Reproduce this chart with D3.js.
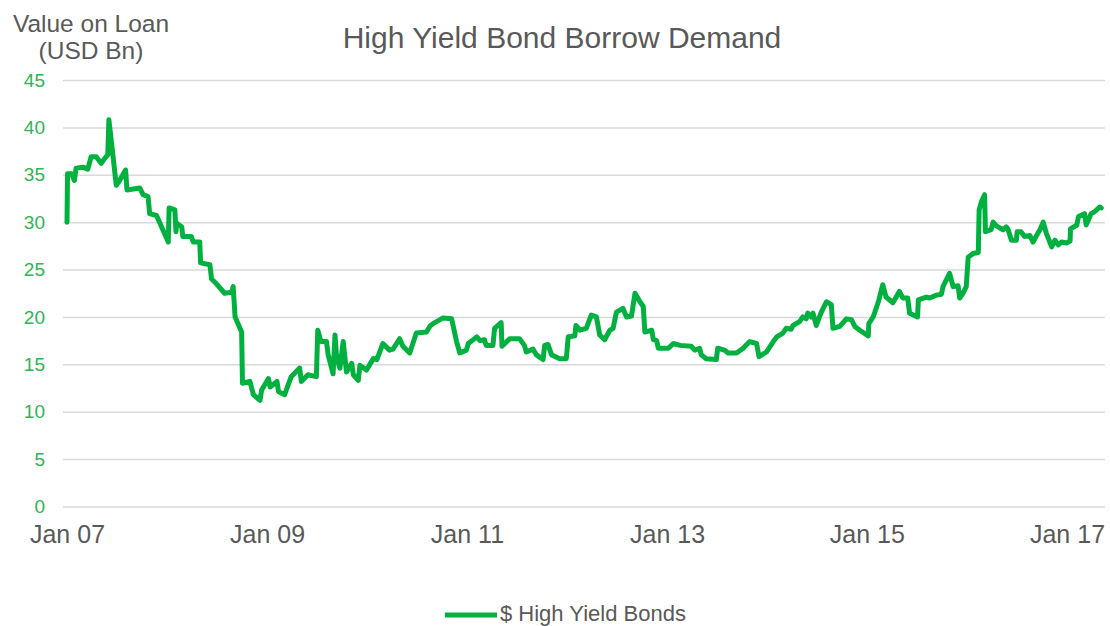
<!DOCTYPE html>
<html>
<head>
<meta charset="utf-8">
<script src="https://cdn.jsdelivr.net/npm/d3@7"></script>
<style>
  html, body { margin: 0; padding: 0; background: #ffffff; }
  svg { display: block; font-family: "Liberation Sans", Arial, sans-serif; }
</style>
</head>
<body>
<svg id="chart" width="1110" height="626"></svg>
<script>
const chartTitle = "High Yield Bond Borrow Demand";
const yAxisTitle = ["Value on Loan", "(USD Bn)"];
const seriesName = "$ High Yield Bonds";
const yTickValues = [0, 5, 10, 15, 20, 25, 30, 35, 40, 45];
const xTickDates = ["2007-01-01", "2009-01-01", "2011-01-01", "2013-01-01", "2015-01-01", "2017-01-01"];
const xTickLabels = ["Jan 07", "Jan 09", "Jan 11", "Jan 13", "Jan 15", "Jan 17"];

const dates = [
  "2007-01-01","2007-01-03","2007-01-18","2007-01-28","2007-02-03","2007-02-28","2007-03-18","2007-03-30","2007-04-18","2007-05-06",
  "2007-05-18","2007-05-30","2007-06-03","2007-06-30","2007-07-12","2007-08-03","2007-08-08","2007-09-24","2007-10-06","2007-10-24",
  "2007-10-30","2007-11-24","2008-01-06","2008-01-09","2008-01-30","2008-02-03","2008-02-06","2008-02-24","2008-02-28","2008-03-30",
  "2008-04-06","2008-04-30","2008-05-03","2008-06-06","2008-06-12","2008-06-30","2008-07-30","2008-08-24","2008-08-30","2008-09-06",
  "2008-09-30","2008-10-03","2008-10-30","2008-11-12","2008-12-06","2008-12-12","2009-01-06","2009-01-12","2009-02-06","2009-02-12",
  "2009-03-06","2009-03-30","2009-04-30","2009-05-06","2009-05-30","2009-06-30","2009-07-05","2009-07-17","2009-08-06","2009-08-12",
  "2009-08-30","2009-09-06","2009-09-12","2009-09-24","2009-10-06","2009-10-18","2009-11-06","2009-11-12","2009-11-30","2009-12-06",
  "2009-12-30","2010-01-24","2010-02-06","2010-02-28","2010-03-24","2010-04-06","2010-04-30","2010-05-12","2010-06-06","2010-06-30",
  "2010-08-06","2010-08-18","2010-08-30","2010-10-06","2010-11-06","2010-11-24","2010-12-06","2010-12-30","2011-01-06","2011-02-06",
  "2011-02-18","2011-03-06","2011-03-12","2011-04-06","2011-04-12","2011-05-06","2011-05-09","2011-06-06","2011-07-12","2011-07-30",
  "2011-08-06","2011-08-30","2011-09-12","2011-10-06","2011-10-12","2011-10-24","2011-11-06","2011-12-06","2011-12-30","2012-01-06",
  "2012-01-30","2012-02-03","2012-02-18","2012-03-12","2012-03-30","2012-04-18","2012-04-30","2012-05-18","2012-06-06","2012-06-18",
  "2012-06-30","2012-07-24","2012-08-06","2012-08-24","2012-09-06","2012-09-24","2012-10-06","2012-10-12","2012-11-06","2012-11-12",
  "2012-11-24","2012-11-30","2013-01-06","2013-01-24","2013-02-18","2013-03-30","2013-04-12","2013-04-30","2013-05-06","2013-05-24",
  "2013-06-30","2013-07-05","2013-07-30","2013-08-12","2013-09-12","2013-10-06","2013-10-30","2013-11-24","2013-12-03","2013-12-30",
  "2014-01-06","2014-01-24","2014-02-06","2014-02-28","2014-03-12","2014-03-30","2014-04-06","2014-04-30","2014-05-12","2014-05-24",
  "2014-05-30","2014-06-12","2014-06-18","2014-06-30","2014-07-17","2014-08-06","2014-08-24","2014-08-30","2014-09-24","2014-10-18",
  "2014-11-06","2014-11-18","2014-12-06","2015-01-06","2015-01-08","2015-01-24","2015-02-12","2015-02-28","2015-03-12","2015-04-06",
  "2015-04-30","2015-05-12","2015-05-30","2015-06-06","2015-07-05","2015-07-08","2015-08-06","2015-08-18","2015-09-12","2015-09-30",
  "2015-10-06","2015-10-30","2015-11-12","2015-11-30","2015-12-06","2015-12-18","2015-12-30","2016-01-06","2016-01-24","2016-02-12",
  "2016-02-15","2016-02-24","2016-03-06","2016-03-09","2016-03-30","2016-04-06","2016-04-18","2016-05-12","2016-05-24","2016-05-30",
  "2016-06-12","2016-06-30","2016-07-03","2016-07-17","2016-07-30","2016-08-18","2016-08-30","2016-09-12","2016-09-24","2016-10-06",
  "2016-10-18","2016-11-06","2016-11-18","2016-11-30","2016-12-12","2016-12-30","2017-01-12","2017-01-14","2017-02-06","2017-02-12",
  "2017-03-06","2017-03-12","2017-03-30","2017-04-12","2017-04-30","2017-05-06"
];
const values = [
  30.0,35.1,35.1,34.4,35.7,35.8,35.6,36.9,36.9,36.2,
  36.7,37.1,40.8,33.9,34.4,35.5,33.4,33.6,32.9,32.7,
  30.9,30.7,27.9,31.5,31.3,29.0,29.9,29.5,28.5,28.5,
  27.9,27.9,25.7,25.5,24.0,23.5,22.5,22.6,23.2,20.0,
  18.4,13.0,13.2,11.8,11.2,12.3,13.5,12.6,13.2,12.1,
  11.8,13.7,14.6,13.2,13.9,13.7,18.6,17.4,17.4,16.0,
  14.0,18.1,15.7,14.6,17.4,14.2,15.1,13.9,13.3,14.9,
  14.4,15.6,15.5,17.2,16.5,16.6,17.7,16.9,16.2,18.3,
  18.4,19.0,19.3,19.9,19.8,17.4,16.2,16.5,17.2,17.9,
  17.5,17.6,17.0,17.0,18.8,19.4,16.9,17.7,17.7,17.0,
  16.3,16.6,16.0,15.5,17.0,17.1,16.0,15.6,15.6,17.9,
  18.0,19.1,18.6,18.8,20.2,20.0,18.1,17.6,18.6,18.8,
  20.5,20.9,20.0,20.1,22.5,21.6,21.1,18.4,18.6,17.6,
  17.5,16.7,16.7,17.2,17.0,16.9,16.5,16.7,16.0,15.6,
  15.5,16.7,16.5,16.2,16.2,16.7,17.4,17.2,15.8,16.3,
  16.6,17.4,17.9,18.3,18.8,18.7,19.1,19.5,20.0,19.8,
  20.4,20.0,20.4,19.1,20.4,21.6,21.3,18.8,19.0,19.8,
  19.7,19.0,18.6,18.0,19.3,20.0,21.6,23.4,22.1,21.5,
  22.7,22.0,22.0,20.4,20.0,21.8,22.1,22.0,22.3,22.4,
  23.2,24.6,23.2,23.3,22.0,22.5,23.2,26.3,26.7,26.8,
  31.3,32.2,32.9,29.0,29.2,30.0,29.6,29.2,29.5,29.3,
  28.1,28.1,29.0,29.0,28.5,28.6,27.9,28.6,29.2,30.0,
  28.8,27.4,28.1,27.6,27.9,27.8,28.0,29.3,29.7,30.6,
  30.9,29.7,30.9,31.1,31.6,31.5
];

const lineColor = "#00b140";
const textGrey = "#595959";
const tickGreen = "#2fb552";
const gridColor = "#d9d9d9";

const parse = d3.timeParse("%Y-%m-%d");
const data = dates.map((d, i) => ({ date: parse(d), value: values[i] }));

const svg = d3.select("#chart");
const gridLeft = 63, gridRight = 1105;

const x = d3.scaleTime()
  .domain([parse("2007-01-01"), parse("2017-01-01")])
  .range([67, 1067]);
const y = d3.scaleLinear().domain([0, 45]).range([506.5, 80]);

// y axis with gridlines
const yAxis = svg.append("g")
  .attr("transform", `translate(${gridLeft},0)`)
  .call(d3.axisLeft(y).tickValues(yTickValues).tickSize(-(gridRight - gridLeft)).tickPadding(18));
yAxis.select(".domain").remove();
yAxis.selectAll(".tick line").attr("stroke", gridColor).attr("stroke-width", 1.5);
yAxis.selectAll(".tick text")
  .attr("fill", tickGreen)
  .style("font-size", "19px")
  .style("font-family", "'Liberation Sans', Arial, sans-serif");

// x axis
const xAxis = svg.append("g")
  .attr("transform", `translate(0,506.5)`)
  .call(d3.axisBottom(x)
    .tickValues(xTickDates.map(parse))
    .tickFormat((d, i) => xTickLabels[i])
    .tickSize(0).tickPadding(19));
xAxis.select(".domain").remove();
xAxis.selectAll(".tick text")
  .attr("fill", textGrey)
  .style("font-size", "25px")
  .style("font-family", "'Liberation Sans', Arial, sans-serif");

// line
const line = d3.line()
  .x(d => x(d.date))
  .y(d => y(d.value));
svg.append("path")
  .datum(data)
  .attr("fill", "none")
  .attr("stroke", lineColor)
  .attr("stroke-width", 5)
  .attr("stroke-linejoin", "round")
  .attr("stroke-linecap", "round")
  .attr("d", line);

// title
svg.append("text")
  .attr("x", 562).attr("y", 48)
  .attr("text-anchor", "middle")
  .attr("fill", textGrey)
  .style("font-size", "30px")
  .text(chartTitle);

// y axis title
svg.append("text")
  .attr("text-anchor", "middle")
  .attr("fill", textGrey)
  .style("font-size", "24.5px")
  .selectAll("tspan")
  .data(yAxisTitle)
  .join("tspan")
  .attr("x", 91)
  .attr("y", (d, i) => 32 + i * 27)
  .text(d => d);

// legend
const legend = svg.append("g");
legend.append("line")
  .attr("x1", 445).attr("x2", 497)
  .attr("y1", 615).attr("y2", 615)
  .attr("stroke", lineColor).attr("stroke-width", 5);
legend.append("text")
  .attr("x", 500).attr("y", 621)
  .attr("fill", textGrey)
  .style("font-size", "22px")
  .text(seriesName);
</script>
</body>
</html>
